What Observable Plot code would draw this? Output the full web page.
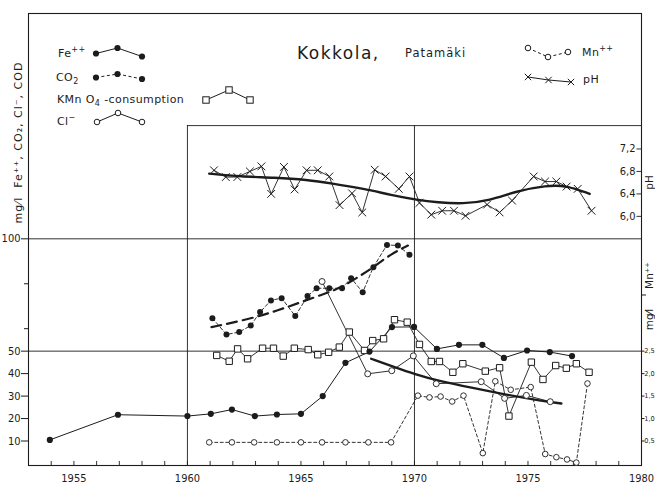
<!DOCTYPE html>
<html><head><meta charset="utf-8">
<script src="https://cdn.jsdelivr.net/npm/d3@7"></script>
<script src="https://cdn.jsdelivr.net/npm/@observablehq/plot@0.6"></script>
<style>
html,body{margin:0;padding:0;background:#fff;}
#wrap{position:relative;width:655px;height:484px;overflow:hidden;font-family:"DejaVu Sans",sans-serif;color:#1c1c1c;}
.lg{position:absolute;font-size:11px;white-space:nowrap;line-height:1;letter-spacing:0.4px;}
.lg sup,.lg sub{font-size:8px;line-height:0;}
</style></head><body><div id="wrap"></div>
<script>
// ---------------- data ----------------
const feYears  = [1953.94, 1956.94, 1960.0, 1961.03, 1961.96, 1962.97, 1963.94, 1965.0, 1965.96, 1966.96, 1968.02, 1969.01, 1969.98, 1970.99, 1971.96, 1972.99, 1973.94, 1974.96, 1975.96, 1976.94];
const feValues = [10.5, 21.7, 21.1, 22.1, 24.0, 21.1, 21.8, 22.1, 30.0, 44.8, 49.8, 60.7, 60.8, 51.0, 52.8, 52.8, 47.0, 50.3, 49.6, 47.8];

const co2Years  = [1961.10, 1961.72, 1962.28, 1962.79, 1963.20, 1963.68, 1964.15, 1964.75, 1965.29, 1965.69, 1966.25, 1966.81, 1967.21, 1967.72, 1968.19, 1968.79, 1969.27, 1969.78];
const co2Values = [64.7, 57.4, 58.5, 61.4, 67.4, 72.6, 73.6, 65.6, 74.5, 78.0, 78.0, 78.0, 82.5, 76.2, 87.4, 97.3, 97.0, 92.9];
const co2TrendYears  = [1961.06, 1962.79, 1963.97, 1965.0, 1966.03, 1966.76, 1967.5, 1968.16, 1968.97, 1969.71];
const co2TrendValues = [60.7, 64.4, 68.1, 71.8, 75.5, 78.2, 82.9, 87.1, 93.3, 97.0];

const kmnYears  = [1961.29, 1961.84, 1962.21, 1962.65, 1963.31, 1963.79, 1964.22, 1964.71, 1965.32, 1965.74, 1966.22, 1966.69, 1967.13, 1967.80, 1968.16, 1968.64, 1969.12, 1969.68, 1970.22, 1970.74, 1971.10, 1971.69, 1972.13, 1973.12, 1973.75, 1974.16, 1975.15, 1975.66, 1976.22, 1976.69, 1977.13, 1977.69];
const kmnValues = [48.1, 45.5, 51.0, 46.6, 51.3, 51.3, 47.8, 51.3, 50.7, 48.4, 49.5, 51.8, 58.5, 50.3, 54.7, 55.5, 64.0, 62.9, 53.0, 45.4, 45.4, 40.6, 44.4, 41.1, 42.6, 21.1, 45.1, 37.4, 43.6, 42.4, 44.4, 40.6];

const clYears  = [1965.93, 1967.94, 1969.0, 1969.95, 1970.96, 1972.94, 1973.97, 1974.93, 1975.98];
const clValues = [81.0, 39.9, 41.3, 47.9, 35.5, 36.4, 29.0, 30.3, 27.5];
const clTrendYears  = [1968.09, 1969.12, 1970.0, 1971.1, 1972.57, 1974.04, 1975.51, 1976.47];
const clTrendValues = [46.6, 42.9, 39.8, 36.6, 33.6, 30.6, 28.0, 26.7];

const mnYears  = [1960.96, 1961.96, 1962.94, 1963.94, 1965.0, 1965.93, 1966.96, 1967.97, 1968.97, 1970.15, 1970.66, 1971.15, 1971.66, 1972.16, 1973.01, 1973.56, 1974.24, 1975.12, 1975.76, 1976.25, 1976.72, 1977.13, 1977.62];
const mnValues = [0.47, 0.47, 0.47, 0.47, 0.47, 0.47, 0.47, 0.47, 0.47, 1.51, 1.47, 1.49, 1.38, 1.51, 0.23, 1.83, 1.64, 1.70, 0.21, 0.14, 0.09, 0.02, 1.78];

const phYears  = [1961.17, 1961.69, 1962.2, 1962.75, 1963.26, 1963.69, 1964.25, 1964.72, 1965.25, 1965.74, 1966.25, 1966.7, 1967.25, 1967.7, 1968.25, 1968.73, 1969.31, 1969.78, 1970.22, 1970.74, 1971.22, 1971.74, 1972.25, 1973.2, 1973.75, 1974.3, 1975.25, 1975.75, 1976.25, 1976.7, 1977.19, 1977.8];
const phValues = [6.82, 6.70, 6.70, 6.80, 6.89, 6.40, 6.88, 6.48, 6.82, 6.82, 6.71, 6.20, 6.41, 6.07, 6.83, 6.71, 6.49, 6.71, 6.24, 6.03, 6.10, 6.10, 6.01, 6.21, 6.07, 6.28, 6.71, 6.62, 6.62, 6.53, 6.49, 6.10];
const phTrendYears  = [1960.96, 1962.35, 1963.82, 1965.29, 1966.32, 1967.79, 1968.97, 1970.15, 1971.0, 1972.13, 1973.31, 1974.49, 1975.81, 1976.69, 1977.72];
const phTrendValues = [6.76, 6.71, 6.69, 6.65, 6.59, 6.49, 6.38, 6.29, 6.25, 6.22, 6.28, 6.45, 6.55, 6.55, 6.40];

// ticks / labels
const yearLabels = [1955, 1960, 1965, 1970, 1975, 1980];
const yearTicks  = d3.range(1954, 1980);
const leftTicks  = [10, 20, 30, 40, 50, 100];
const leftMinor  = [60, 80];
const phTicks    = [6.0, 6.4, 6.8, 7.2];
const mnTicks    = [0.5, 1.0, 1.5, 2.0, 2.5];
const mnMinor    = [3.75];
const gridValues = [50, 100];
const boxYears   = [1960, 1970];
const leftTitle  = "mg\u2044l  Fe\u207A\u207A, CO\u2082, Cl\u207B, COD";

// ---------------- scales ----------------
const X0 = 1953, X1 = 1980, Y0 = -0.9, Y1 = 200.3, BOX_TOP = 150.4;
const phToY = p => 110 + (p - 6) * 25;   // pH axis on the right
const mnToY = m => m * 20;               // Mn++ axis on the right
const fmt = v => v.toFixed(1).replace(".", ",");
const zip = (xs, ys) => xs.map((x, i) => ({x, v: ys[i]}));

const fe = zip(feYears, feValues), co2 = zip(co2Years, co2Values), co2T = zip(co2TrendYears, co2TrendValues);
const kmn = zip(kmnYears, kmnValues), cl = zip(clYears, clValues), clT = zip(clTrendYears, clTrendValues);
const mn = zip(mnYears, mnValues), ph = zip(phYears, phValues), phT = zip(phTrendYears, phTrendValues);

const ink = "#1c1c1c";
const narrow = '"Liberation Sans Narrow","DejaVu Sans Condensed","Roboto Condensed",sans-serif';

const chart = Plot.plot({
  width: 655, height: 484,
  marginLeft: 28, marginRight: 14, marginTop: 13, marginBottom: 19,
  style: {fontFamily: narrow, fontSize: "11px", color: ink, background: "#fff"},
  x: {domain: [X0, X1]},
  y: {domain: [Y0, Y1]},
  marks: [
    Plot.frame({stroke: ink, strokeWidth: 1.1}),
    Plot.ruleY(gridValues, {stroke: ink, strokeWidth: 0.9}),
    Plot.ruleY([BOX_TOP], {x1: boxYears[0], x2: X1, stroke: ink, strokeWidth: 0.9}),
    Plot.ruleX(boxYears, {y1: Y0, y2: BOX_TOP, stroke: ink, strokeWidth: 0.9}),
    Plot.ruleX(yearTicks, {y1: Y0, y2: Y0 + 1.8, stroke: ink, strokeWidth: 0.9}),
    Plot.axisX({ticks: yearLabels, tickSize: 0, tickPadding: 9, tickFormat: d => String(d), label: null}),
    Plot.axisY({anchor: "left", ticks: leftTicks, tickSize: 7, tickPadding: 1, tickFormat: d => String(d), label: null}),
    Plot.axisY({anchor: "left", ticks: leftMinor, tickSize: 4, tickFormat: () => "", label: null}),
    Plot.axisY({anchor: "right", ticks: mnTicks.map(mnToY), tickSize: 2.5, tickPadding: 0.3, fontSize: 6.6, fontFamily: "DejaVu Sans", tickFormat: d => fmt(d / 20), label: null}),
    Plot.axisY({anchor: "right", ticks: mnMinor.map(mnToY), tickSize: 4, tickFormat: () => "", label: null}),
    // pH axis (ticks inside the right edge)
    Plot.ruleY(phTicks, {y: phToY, x1: X1 - 0.2, x2: X1, stroke: ink, strokeWidth: 0.9}),
    Plot.text(phTicks, {x: X1, y: phToY, text: fmt, dx: -6, textAnchor: "end", fill: ink}),
    // axis titles
    Plot.text([leftTitle], {frameAnchor: "left", textAnchor: "middle", dx: -10, dy: -97, rotate: -90, fontFamily: "DejaVu Sans", fontSize: 11, fill: ink}),
    Plot.text(["pH"], {frameAnchor: "right", textAnchor: "middle", dx: 8, dy: -57, rotate: -90, fontFamily: "DejaVu Sans", fontSize: 10.5, fill: ink}),
    Plot.text(["Mn\u207A\u207A"], {frameAnchor: "right", textAnchor: "middle", dx: 8, dy: 36, rotate: -90, fontFamily: "DejaVu Sans", fontSize: 10.5, fill: ink}),
    Plot.text(["mg\u2044l"], {frameAnchor: "right", textAnchor: "middle", dx: 8, dy: 80, rotate: -90, fontFamily: "DejaVu Sans", fontSize: 10.5, fill: ink}),

    // pH
    Plot.line(phT, {x: "x", y: d => phToY(d.v), stroke: ink, strokeWidth: 2.4, curve: "basis"}),
    Plot.line(ph, {x: "x", y: d => phToY(d.v), stroke: ink, strokeWidth: 0.9}),
    Plot.dot(ph, {x: "x", y: d => phToY(d.v), symbol: "times", r: 3.6, stroke: ink, strokeWidth: 1}),
    // Mn++
    Plot.line(mn, {x: "x", y: d => mnToY(d.v), stroke: ink, strokeWidth: 0.9, strokeDasharray: "3,2.5"}),
    // Cl-
    Plot.line(clT, {x: "x", y: "v", stroke: ink, strokeWidth: 2.3, curve: "basis"}),
    Plot.line(cl, {x: "x", y: "v", stroke: ink, strokeWidth: 0.9}),
    // KMnO4
    Plot.line(kmn, {x: "x", y: "v", stroke: ink, strokeWidth: 0.9}),
    // CO2
    Plot.line(co2T, {x: "x", y: "v", stroke: ink, strokeWidth: 2.2, strokeDasharray: "10,6", curve: "basis"}),
    Plot.line(co2, {x: "x", y: "v", stroke: ink, strokeWidth: 0.9, strokeDasharray: "3.5,2.5"}),
    // Fe++
    Plot.line(fe, {x: "x", y: "v", stroke: ink, strokeWidth: 1}),

    // markers on top
    Plot.dot(mn, {x: "x", y: d => mnToY(d.v), r: 2.8, fill: "#fff", stroke: ink, strokeWidth: 0.9}),
    Plot.dot(cl, {x: "x", y: "v", r: 3, fill: "#fff", stroke: ink, strokeWidth: 0.9}),
    Plot.dot(kmn, {x: "x", y: "v", symbol: "square", r: 3.6, fill: "#fff", stroke: ink, strokeWidth: 1}),
    Plot.dot(co2, {x: "x", y: "v", r: 3, fill: ink, stroke: "none"}),
    Plot.dot(fe, {x: "x", y: "v", r: 3.1, fill: ink, stroke: "none"})
  ]
});

// wider letter spacing for the left axis title, as in the reference lettering
d3.select(chart).selectAll("text").filter(function () { return this.textContent === leftTitle; })
  .style("letter-spacing", "1px");

const wrap = document.getElementById("wrap");
wrap.appendChild(chart);

// ---------------- title + legend overlay ----------------
function addText(html, left, top, css) {
  const d = document.createElement("div");
  d.className = "lg";
  d.innerHTML = html;
  d.style.left = left + "px";
  d.style.top = top + "px";
  if (css) d.style.cssText += css;
  wrap.appendChild(d);
}
const ns = "http://www.w3.org/2000/svg";
function sample(pts, marker, dash) {
  const pad = 6;
  const xs = pts.map(p => p[0]), ys = pts.map(p => p[1]);
  const x0 = Math.min(...xs) - pad, y0 = Math.min(...ys) - pad;
  const w = Math.max(...xs) - x0 + pad, h = Math.max(...ys) - y0 + pad;
  const s = document.createElementNS(ns, "svg");
  s.setAttribute("width", w); s.setAttribute("height", h);
  s.style.cssText = `position:absolute;left:${x0}px;top:${y0}px;overflow:visible`;
  const pl = document.createElementNS(ns, "polyline");
  pl.setAttribute("points", pts.map(([x, y]) => `${x - x0},${y - y0}`).join(" "));
  pl.setAttribute("fill", "none"); pl.setAttribute("stroke", ink); pl.setAttribute("stroke-width", "1");
  if (dash) pl.setAttribute("stroke-dasharray", dash);
  s.appendChild(pl);
  for (const [px, py] of pts) {
    const x = px - x0, y = py - y0;
    let e;
    if (marker === "dot" || marker === "circle") {
      e = document.createElementNS(ns, "circle");
      e.setAttribute("cx", x); e.setAttribute("cy", y); e.setAttribute("r", marker === "dot" ? 3.1 : 2.8);
      e.setAttribute("fill", marker === "dot" ? ink : "#fff");
      e.setAttribute("stroke", marker === "dot" ? "none" : ink);
    } else if (marker === "square") {
      e = document.createElementNS(ns, "rect");
      e.setAttribute("x", x - 3.2); e.setAttribute("y", y - 3.2); e.setAttribute("width", 6.4); e.setAttribute("height", 6.4);
      e.setAttribute("fill", "#fff"); e.setAttribute("stroke", ink);
    } else {
      e = document.createElementNS(ns, "path");
      const k = 3.2;
      e.setAttribute("d", `M${x - k},${y - k}L${x + k},${y + k}M${x - k},${y + k}L${x + k},${y - k}`);
      e.setAttribute("stroke", ink); e.setAttribute("fill", "none");
    }
    s.appendChild(e);
  }
  wrap.appendChild(s);
}

addText("Kokkola,", 297, 45, "font-size:17px;letter-spacing:1.5px;");
addText("Patamäki", 405, 48, "font-size:11.5px;letter-spacing:1px;");

addText("Fe<sup>++</sup>", 58, 48);
sample([[96, 53], [117.5, 47.5], [142, 56]], "dot");
addText("CO<sub>2</sub>", 56, 72);
sample([[96, 77.5], [117.5, 74], [142, 79]], "dot", "3,2.5");
addText("KMn O<sub>4</sub> -consumption", 57, 94);
sample([[206, 100], [229, 90], [250, 100]], "square");
addText("Cl<sup>−</sup>", 57, 116);
sample([[97, 122], [118, 113], [142, 122]], "circle");
addText("Mn<sup>++</sup>", 582, 47);
sample([[528, 48], [548, 57], [568, 52]], "circle", "3,2.5");
addText("pH", 583, 74);
sample([[528, 77], [548.5, 80], [571, 82]], "times");
</script></body></html>
